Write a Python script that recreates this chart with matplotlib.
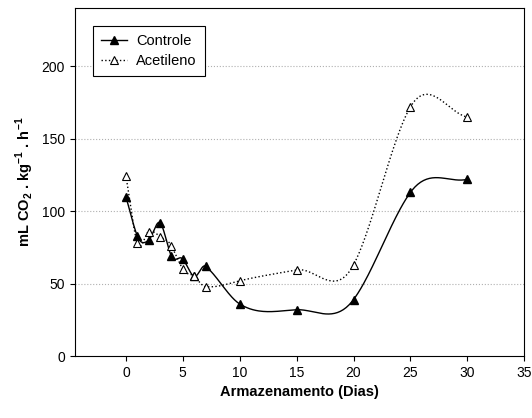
import numpy as np
import matplotlib
matplotlib.use('Agg')
import matplotlib.pyplot as plt

plt.rcParams['font.family'] = ['Liberation Sans', 'DejaVu Sans']
plt.rcParams['mathtext.fontset'] = 'custom'
plt.rcParams['mathtext.rm'] = 'Liberation Sans'
plt.rcParams['mathtext.bf'] = 'Liberation Sans:bold'

dias = [0, 1, 2, 3, 4, 5, 6, 7, 10, 15, 20, 25, 30]
controle = [110, 83, 80, 92, 69, 67, 55, 62, 36, 32, 39, 113, 122]
acetileno = [124.5, 78, 86, 82.5, 76, 60, 55, 48, 52, 59.5, 63, 172, 165]


def spline(x, y, n=40, k=1.3):
    # hermite spline with catmull-rom tangents, scaled by k
    x = np.asarray(x, float)
    y = np.asarray(y, float)
    m = np.zeros_like(y)
    m[1:-1] = k * (y[2:] - y[:-2]) / (x[2:] - x[:-2])
    m[0] = (y[1] - y[0]) / (x[1] - x[0])
    m[-1] = (y[-1] - y[-2]) / (x[-1] - x[-2])
    xs, ys = [], []
    for i in range(len(x) - 1):
        h = x[i + 1] - x[i]
        t = np.linspace(0, 1, n)
        h00 = 2 * t**3 - 3 * t**2 + 1
        h10 = t**3 - 2 * t**2 + t
        h01 = -2 * t**3 + 3 * t**2
        h11 = t**3 - t**2
        xs.append(x[i] + t * h)
        ys.append(h00 * y[i] + h10 * h * m[i] + h01 * y[i + 1] + h11 * h * m[i + 1])
    return np.concatenate(xs), np.concatenate(ys)


fig = plt.figure(figsize=(5.32, 4.18), dpi=100)
ax = fig.add_axes([0.1404, 0.148, 0.845, 0.832])

for v in [50, 100, 150, 200]:
    ax.axhline(v, color='#b0b0b0', lw=0.8, ls=':', zorder=0)

sx, sy = spline(dias, controle)
ax.plot(sx, sy, color='black', lw=1)
ax.plot(dias, controle, ls='none', marker='^', ms=6, mfc='black', mec='black')
sx, sy = spline(dias, acetileno)
ax.plot(sx, sy, color='black', lw=1, ls=':')
ax.plot(dias, acetileno, ls='none', marker='^', ms=6, mfc='white', mec='black', mew=0.8)

# legend proxies
ax.plot([], [], color='black', lw=1, marker='^', ms=6, mfc='black', label='Controle')
ax.plot([], [], color='black', lw=1, ls=':', marker='^', ms=6, mfc='white', mew=0.8, label='Acetileno')
leg = ax.legend(loc='upper left', bbox_to_anchor=(0.041, 0.949), borderaxespad=0,
                fancybox=False, framealpha=1, edgecolor='black', fontsize=10.5,
                handlelength=1.8, handletextpad=0.6, borderpad=0.55, labelspacing=0.4)
leg.get_frame().set_linewidth(0.8)

ax.set_xlim(-4.5, 35)
ax.set_ylim(0, 240)
ax.set_xticks(range(0, 36, 5))
ax.set_yticks(range(0, 201, 50))
ax.tick_params(direction='out', labelsize=10)
ax.set_xlabel('Armazenamento (Dias)', fontweight='bold', fontsize=10.5)
ax.set_ylabel(r'mL CO$_\mathbf{2}$ . kg$^\mathbf{-1}$ . h$^\mathbf{-1}$', fontweight='bold', fontsize=10.5)

fig.savefig('out.png', dpi=100)
